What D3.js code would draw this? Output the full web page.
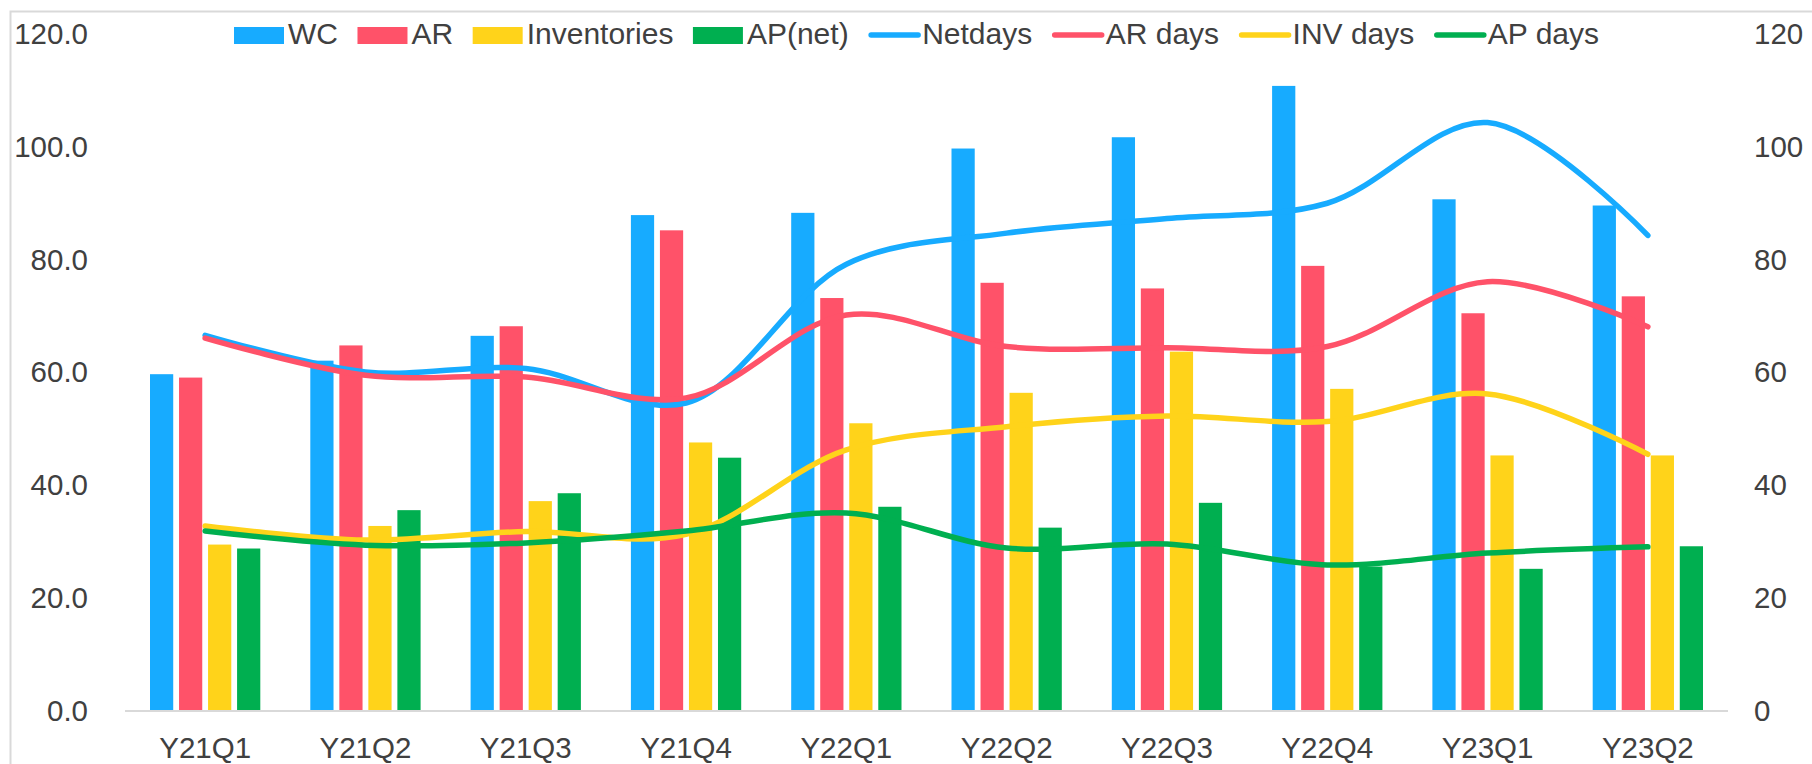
<!DOCTYPE html>
<html>
<head>
<meta charset="utf-8">
<script src="https://cdn.jsdelivr.net/npm/d3@7"></script>
<style>
  body { margin: 0; background: #fff; }
  text { font-family: "Liberation Sans", Arial, sans-serif; fill: #404040; }
</style>
</head>
<body>
<div id="chart"></div>
<script>
var quarters = ["Y21Q1","Y21Q2","Y21Q3","Y21Q4","Y22Q1","Y22Q2","Y22Q3","Y22Q4","Y23Q1","Y23Q2"];

// bars, left axis
var wc          = [59.7, 62.1, 66.5, 87.9, 88.3, 99.7, 101.7, 110.8, 90.7, 89.6];
var ar          = [59.1, 64.8, 68.2, 85.2, 73.2, 75.9, 74.9, 78.9, 70.5, 73.5];
var inventories = [29.5, 32.8, 37.2, 47.6, 51.0, 56.4, 63.7, 57.1, 45.3, 45.3];
var apNet       = [28.8, 35.6, 38.6, 44.9, 36.2, 32.5, 36.9, 25.6, 25.2, 29.2];

// lines, right axis
var netDays = [66.6, 60.1, 60.7, 54.6, 79.2, 84.7, 87.3, 90.0, 104.3, 84.3];
var arDays  = [66.1, 59.5, 59.2, 55.5, 70.2, 64.6, 64.4, 64.6, 76.1, 68.1];
var invDays = [32.8, 30.3, 31.8, 31.3, 46.3, 50.4, 52.3, 51.3, 56.2, 45.5];
var apDays  = [31.9, 29.4, 29.8, 31.9, 35.1, 28.9, 29.6, 25.9, 28.0, 29.1];

var leftTicks = [0, 20, 40, 60, 80, 100, 120];

var COLORS = { blue: "#17abff", red: "#ff5269", yellow: "#ffd31a", green: "#00af50" };

var barSeries = [
  { name: "WC", values: wc, color: COLORS.blue },
  { name: "AR", values: ar, color: COLORS.red },
  { name: "Inventories", values: inventories, color: COLORS.yellow },
  { name: "AP(net)", values: apNet, color: COLORS.green }
];
var lineSeries = [
  { name: "Netdays", values: netDays, color: COLORS.blue },
  { name: "AR days", values: arDays, color: COLORS.red },
  { name: "INV days", values: invDays, color: COLORS.yellow },
  { name: "AP days", values: apDays, color: COLORS.green }
];

var width = 1812, height = 764;
var plot = { left: 125, right: 1728, top: 34, bottom: 711 };

var svg = d3.select("#chart").append("svg")
  .attr("width", width)
  .attr("height", height);

// chart area border
svg.append("rect")
  .attr("x", 10.5).attr("y", 11.5)
  .attr("width", width + 20).attr("height", height + 20)
  .style("fill", "none")
  .style("stroke", "#d9d9d9")
  .style("stroke-width", 2);

var x0 = d3.scaleBand()
  .domain(quarters)
  .range([plot.left, plot.right])
  .padding(0);

var x1 = d3.scaleBand()
  .domain(barSeries.map(d => d.name))
  .range([25, x0.bandwidth() - 25])
  .paddingInner(0.2);

var yLeft = d3.scaleLinear().domain([0, 120]).range([plot.bottom, plot.top]);
var yRight = d3.scaleLinear().domain([0, 120]).range([plot.bottom, plot.top]);

// axes
var leftAxis = svg.append("g")
  .attr("transform", "translate(" + plot.left + ",0)")
  .call(d3.axisLeft(yLeft).tickValues(leftTicks).tickFormat(d3.format(".1f")).tickSize(0).tickPadding(37));
var rightAxis = svg.append("g")
  .attr("transform", "translate(" + plot.right + ",0)")
  .call(d3.axisRight(yRight).tickValues(leftTicks).tickFormat(d3.format("d")).tickSize(0).tickPadding(26));
var bottomAxis = svg.append("g")
  .attr("transform", "translate(0," + plot.bottom + ")")
  .call(d3.axisBottom(x0).tickSize(0).tickPadding(26));

[leftAxis, rightAxis, bottomAxis].forEach(function(g) {
  g.select(".domain").remove();
  g.selectAll("text").style("font-size", "29.5px").style("fill", "#404040")
    .style("font-family", "'Liberation Sans', Arial, sans-serif");
});

// bars
var groups = svg.append("g").selectAll(".group")
  .data(quarters)
  .join("g")
  .attr("class", "group")
  .attr("transform", d => "translate(" + x0(d) + ",0)");

groups.selectAll("rect")
  .data((q, i) => barSeries.map(s => ({ name: s.name, value: s.values[i], color: s.color })))
  .join("rect")
  .attr("x", d => x1(d.name))
  .attr("width", x1.bandwidth())
  .attr("y", d => yLeft(d.value))
  .attr("height", d => plot.bottom - yLeft(d.value))
  .style("fill", d => d.color);

// baseline
svg.append("line")
  .attr("x1", plot.left).attr("x2", plot.right)
  .attr("y1", plot.bottom).attr("y2", plot.bottom)
  .style("stroke", "#d9d9d9")
  .style("stroke-width", 2);

// smoothed lines
var line = d3.line()
  .x((d, i) => x0(quarters[i]) + x0.bandwidth() / 2)
  .y(d => yRight(d))
  .curve(d3.curveCatmullRom.alpha(0.5));

svg.append("g").selectAll(".series-line")
  .data(lineSeries)
  .join("path")
  .attr("class", "series-line")
  .attr("d", d => line(d.values))
  .style("fill", "none")
  .style("stroke", d => d.color)
  .style("stroke-width", 5.5)
  .style("stroke-linecap", "round")
  .style("stroke-linejoin", "round");

// legend
var legend = svg.append("g");
var lx = 234;
barSeries.concat(lineSeries).forEach(function(s, i) {
  var item = legend.append("g");
  if (i < 4) {
    item.append("rect")
      .attr("x", lx).attr("y", 27)
      .attr("width", 50).attr("height", 17)
      .style("fill", s.color);
  } else {
    item.append("line")
      .attr("x1", lx + 3).attr("x2", lx + 50)
      .attr("y1", 35).attr("y2", 35)
      .style("stroke", s.color)
      .style("stroke-width", 5.5)
      .style("stroke-linecap", "round");
  }
  var label = item.append("text")
    .attr("x", lx + 54)
    .attr("y", 43.5)
    .style("font-size", "30px")
    .text(s.name);
  lx = lx + 54 + label.node().getComputedTextLength() + 19.5;
});
</script>
</body>
</html>
